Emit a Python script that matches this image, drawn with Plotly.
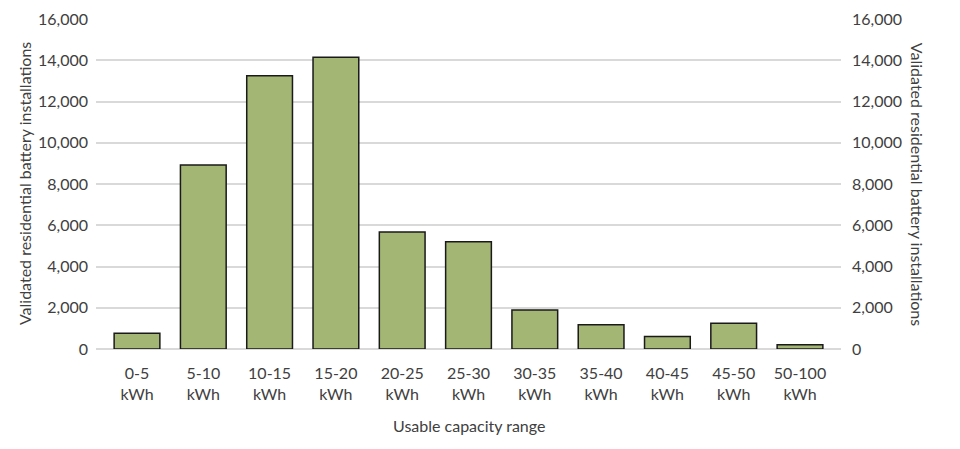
"""Validated residential battery installations by usable capacity range (Plotly HTML)."""

import plotly.graph_objects as go

CAPACITY_RANGES = [
    "0-5<br>kWh", "5-10<br>kWh", "10-15<br>kWh", "15-20<br>kWh", "20-25<br>kWh",
    "25-30<br>kWh", "30-35<br>kWh", "35-40<br>kWh", "40-45<br>kWh", "45-50<br>kWh",
    "50-100<br>kWh",
]
INSTALLATIONS = [760, 8920, 13250, 14140, 5670, 5200, 1890, 1180, 610, 1245, 210]

Y_TICKS = [0, 2000, 4000, 6000, 8000, 10000, 12000, 14000, 16000]
Y_TITLE = "Validated residential battery installations"
X_TITLE = "Usable capacity range"

BAR_COLOR = "#A4B674"
TEXT_COLOR = "#404040"
GRID_COLOR = "#D9D9D9"
FONT = "Lato, 'Open Sans', sans-serif"

fig = go.Figure()

fig.add_trace(go.Bar(
    x=CAPACITY_RANGES,
    y=INSTALLATIONS,
    marker=dict(color=BAR_COLOR, line=dict(color="#1a1a1a", width=1.5)),
    showlegend=False,
))

# invisible copy so the right-hand axis gets drawn
fig.add_trace(go.Scatter(
    x=CAPACITY_RANGES,
    y=INSTALLATIONS,
    yaxis="y2",
    mode="markers",
    marker=dict(opacity=0),
    hoverinfo="skip",
    showlegend=False,
))

tick_font = dict(family=FONT, size=16, color=TEXT_COLOR)
title_font = dict(family=FONT, size=16, color=TEXT_COLOR)

# page body has an 8px default margin, so margins are shifted to compensate
fig.update_layout(
    width=960,
    height=449,
    margin=dict(l=88, r=127, t=11, b=108),
    paper_bgcolor="white",
    plot_bgcolor="white",
    bargap=0.31,
    font=dict(family=FONT, color=TEXT_COLOR),
    xaxis=dict(
        tickfont=tick_font,
        showline=False,
        ticks="",
        showgrid=False,
        automargin=False,
        ticklabelstandoff=13,
    ),
    yaxis=dict(
        range=[0, 16000],
        tickvals=Y_TICKS,
        tickformat=",d",
        tickfont=tick_font,
        gridcolor=GRID_COLOR,
        gridwidth=1.5,
        zeroline=True,
        zerolinecolor=GRID_COLOR,
        zerolinewidth=1.5,
        ticks="",
        automargin=False,
        ticklabelstandoff=7,
    ),
    yaxis2=dict(
        range=[0, 16000],
        tickvals=Y_TICKS,
        tickformat=",d",
        tickfont=tick_font,
        overlaying="y",
        side="right",
        showgrid=False,
        zeroline=False,
        ticks="",
        automargin=False,
        ticklabelstandoff=10,
    ),
    annotations=[
        dict(text=Y_TITLE, x=-0.112, y=0.5, xref="paper", yref="paper",
             textangle=-90, showarrow=False, font=title_font),
        dict(text=Y_TITLE, x=1.119, y=0.5, xref="paper", yref="paper",
             textangle=90, showarrow=False, font=title_font),
        dict(text=X_TITLE, x=0.5, y=-0.233, xref="paper", yref="paper",
             yanchor="middle", showarrow=False, font=title_font),
    ],
)

fig.write_html("out.html")
